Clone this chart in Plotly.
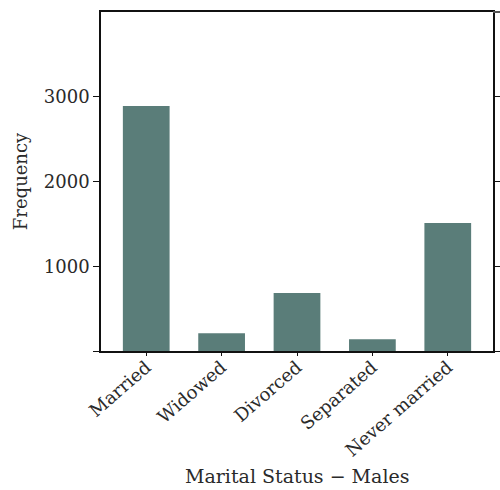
import plotly.graph_objects as go

categories = ["Married", "Widowed", "Divorced", "Separated", "Never married"]
frequency = [2890, 210, 685, 140, 1510]
ytick_vals = [0, 1000, 2000, 3000]
ytick_text = ["", "1000", "2000", "3000"]

bar_color = "#5a7d79"
font_family = "DejaVu Serif, Liberation Serif, serif"

fig = go.Figure(go.Bar(x=categories, y=frequency, marker_color=bar_color,
                       marker_line_width=0, width=0.62))

fig.update_layout(
    width=500, height=490,
    margin=dict(l=101, r=7, t=12, b=139),
    plot_bgcolor="white", paper_bgcolor="white",
    font=dict(family=font_family, size=18, color="#2a2a2a"),
    showlegend=False,
)
fig.update_xaxes(
    range=[-0.6, 4.6], showgrid=False, tickangle=-41, automargin=False,
    showline=True, linecolor="#111", linewidth=1.5, mirror=True,
    ticks="outside", ticklen=3, tickcolor="#111",
    tickfont=dict(size=18), ticklabelstandoff=-6,
)
fig.update_yaxes(
    range=[0, 4000], showgrid=False, zeroline=False, automargin=False,
    tickvals=ytick_vals, ticktext=ytick_text,
    showline=True, linecolor="#111", linewidth=1.5, mirror="ticks",
    ticks="outside", ticklen=6, tickcolor="#111",
    tickfont=dict(size=18),
)
fig.add_shape(type="line", xref="paper", yref="paper", x0=1, x1=1.03, y0=1, y1=1,
              line=dict(color="#555", width=2))
fig.add_annotation(text="Marital Status − Males", xref="paper", yref="paper",
                   x=0.5, y=-0.37, showarrow=False, xanchor="center", yanchor="middle",
                   font=dict(size=19))
fig.add_annotation(text="Frequency", xref="paper", yref="paper",
                   x=-0.205, y=0.5, showarrow=False, textangle=-90,
                   xanchor="center", yanchor="middle", font=dict(size=18))

fig.write_html("out.html", config={"displayModeBar": False},
               post_script="document.body.style.margin='0';document.body.style.overflow='hidden';")
